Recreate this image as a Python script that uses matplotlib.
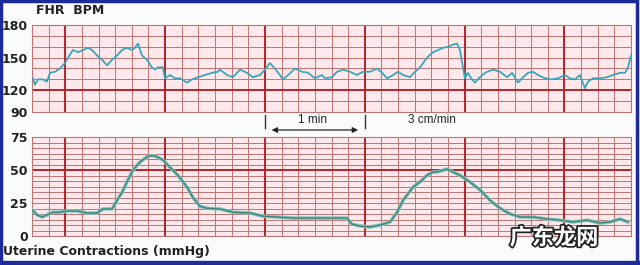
import numpy as np
import matplotlib
matplotlib.use("Agg")
import matplotlib.pyplot as plt
from matplotlib.patches import Rectangle
from matplotlib.transforms import blended_transform_factory
import matplotlib.patheffects as pe

# fetal heart rate trace (time in s, bpm)
fhr_t = [0.6, 1.8, 3.6, 6.6, 9.0, 10.8, 13.8, 16.8, 19.8, 21.6, 24.6, 27.6, 30.7, 33.7,
         36.1, 39.1, 42.1, 45.1, 48.1, 51.1, 54.1, 57.1, 60.1, 61.9, 63.7, 66.1, 69.1,
         72.1, 73.9, 75.7, 78.7, 79.9, 82.9, 85.9, 88.9, 93.2, 96.2, 99.8, 104.0, 108.2,
         111.8, 113.0, 117.2, 120.8, 125.0, 129.2, 132.8, 137.0, 140.0, 143.0, 146.0,
         149.0, 150.9, 153.9, 158.1, 162.3, 165.9, 170.1, 174.3, 176.1, 180.3, 183.3,
         186.9, 191.1, 195.3, 198.9, 203.1, 207.3, 210.4, 213.4, 217.0, 220.0, 223.0,
         227.2, 230.2, 233.2, 237.4, 241.0, 244.0, 247.0, 250.0, 253.0, 255.4, 257.2,
         259.0, 260.2, 262.0, 264.4, 266.2, 268.0, 270.5, 273.5, 277.1, 281.3, 285.5,
         288.5, 292.1, 294.5, 298.1, 301.1, 304.1, 308.3, 312.5, 316.1, 320.3, 323.3,
         326.3, 329.3, 332.3, 334.2, 337.2, 341.4, 345.6, 349.2, 353.4, 356.4, 358.2, 360.0]
fhr_bpm = [131, 125, 130, 130, 128, 136, 137, 140, 145, 150, 157, 155, 157, 159,
           157, 152, 148, 143, 148, 152, 157, 159, 157, 159, 163, 152, 148,
           141, 139, 141, 141, 131, 134, 131, 131, 127, 130, 132, 134, 136,
           137, 139, 134, 132, 139, 136, 132, 134, 139, 145, 140,
           134, 130, 134, 140, 137, 136, 131, 134, 131, 132, 137,
           139, 137, 134, 137, 137, 140, 136, 131, 134, 137, 134,
           132, 137, 141, 150, 155, 157, 159, 160, 162, 163, 157,
           141, 131, 136, 130, 127, 130, 134, 137, 139, 137, 132,
           136, 127, 131, 136, 137, 134, 131, 130, 131, 134, 131,
           130, 134, 122, 128, 131, 131, 132, 134, 136, 136, 141, 152]

# uterine contractions trace (time in s, mmHg)
uc_t = [0.0, 3.0, 6.0, 9.0, 12.6, 16.8, 21.0, 27.0, 33.1, 39.1, 42.7, 48.1, 51.1, 54.1,
        57.1, 60.7, 64.9, 69.1, 72.1, 75.1, 78.7, 82.9, 87.7, 93.2, 96.8, 101.0, 105.2,
        113.0, 120.8, 131.0, 138.8, 147.2, 156.9, 167.1, 177.3, 189.3, 192.3, 197.1,
        203.1, 209.1, 215.2, 219.4, 223.0, 229.0, 233.2, 237.4, 241.0, 243.4, 249.4,
        253.0, 257.2, 263.2, 269.2, 275.3, 281.3, 287.3, 293.3, 301.1, 309.5, 317.3,
        325.1, 333.6, 341.4, 347.4, 353.4, 358.2]
uc_mmhg = [19.7, 16, 14.4, 16, 18, 18, 19, 19, 17.4, 17.4, 20.5, 20.5, 27, 33,
           41, 50, 56, 60, 61, 60, 57.6, 52, 46, 37, 29, 22.5, 21,
           20.5, 18, 17.4, 15, 14.4, 13.6, 13.6, 13.6, 13.6, 9, 7.6,
           6.8, 8.3, 10.6, 18, 27, 37, 41, 46, 48.5, 48.5, 50.7,
           48.5, 46, 41, 35, 27, 21, 16.7, 14.4, 14.4, 12.9, 12,
           10.6, 12, 9.8, 10.6, 12.9, 10.6]

fhr_ticks = [100, 120, 150, 180]
fhr_labels = ["90", "120", "150", "180"]
uc_ticks = [0, 25, 50, 75]

minor_c = "#bf7474"
major_c = "#b3252b"
bg_c = "#fde9eb"

fig = plt.figure(figsize=(6.4, 2.65), dpi=100)
fig.patch.set_facecolor("#fbfbfb")

ax1 = fig.add_axes([32/640, 1-112/265, 599/640, 87/265])
ax2 = fig.add_axes([32/640, 1-236/265, 599/640, 99/265])


def paper(ax, ymin, ymax, ystep, ythick):
    ax.set_facecolor(bg_c)
    ax.set_xlim(0, 360)
    ax.set_ylim(ymin, ymax)
    for x in np.arange(0, 361, 10):
        ax.axvline(x, color=minor_c, lw=0.7, zorder=1)
    for x in np.arange(20, 361, 60):
        ax.axvline(x, color=major_c, lw=1.4, zorder=1.5)
    for y in np.arange(ymin, ymax + 0.01, ystep):
        ax.axhline(y, color=minor_c, lw=0.7, zorder=1)
    ax.axhline(ythick, color=major_c, lw=1.4, zorder=1.5)
    for s in ax.spines.values():
        s.set_color(minor_c)
        s.set_linewidth(0.8)
    ax.tick_params(length=0, pad=3, labelsize=9, labelcolor="#222222")
    ax.set_xticks([])
    for lab in ax.get_yticklabels():
        lab.set_fontweight("bold")


ax1.plot(fhr_t, fhr_bpm, color="#3aa6b8", lw=1.3, zorder=3)
ax1.set_yticks(fhr_ticks)
ax1.set_yticklabels(fhr_labels)
paper(ax1, 100, 180, 10, 120)

ax2.plot(uc_t, uc_mmhg, color="#86c4c0", lw=2.6, zorder=3)
ax2.plot(uc_t, uc_mmhg, color="#3d8574", lw=1.0, zorder=4)
ax2.set_yticks(uc_ticks)
paper(ax2, 0, 75, 75/18, 50)

fig.text(36/640, 1-10/265, "FHR  BPM", fontsize=9, fontweight="bold",
         color="#222222", va="center", ha="left")
fig.text(3/640, 1-251/265, "Uterine Contractions (mmHg)", fontsize=9,
         fontweight="bold", color="#222222", va="center", ha="left")

# 1 min scale bar between the panels
tr = blended_transform_factory(ax1.transData, fig.transFigure)
for x in [140, 200]:
    fig.lines.append(plt.Line2D([x, x], [1-115/265, 1-128/265], transform=tr,
                                color="#333333", lw=1.0))
ax1.annotate("", xy=(144, 1-130/265), xytext=(196, 1-130/265),
             xycoords=tr, textcoords=tr,
             arrowprops=dict(arrowstyle="<|-|>", color="#222222", lw=0.9,
                             mutation_scale=8, shrinkA=0, shrinkB=0))
fig.text(313/640, 1-120/265, "1 min", fontsize=8.5, ha="center", va="center",
         color="#222222", family="Liberation Sans")
fig.text(408/640, 1-120/265, "3 cm/min", fontsize=8.5, ha="left", va="center",
         color="#222222", family="Liberation Sans")

# watermark
fig.text(554/640, 1-238/265, "广东龙网", fontsize=16, ha="center", va="center",
         color="white", family=["Noto Sans CJK SC", "DejaVu Sans"], style="italic",
         fontweight="bold",
         path_effects=[pe.withStroke(linewidth=2.5, foreground="#222222")])

# blue frame
fig.patches.append(Rectangle((0.002, 0.006), 0.993, 0.99, transform=fig.transFigure,
                             fill=False, edgecolor="#1e2a9c", lw=2.5))
fig.patches.append(Rectangle((0, 0), 1, 4/265, transform=fig.transFigure,
                             color="#1e2a9c"))

fig.savefig("out.png", dpi=100)
